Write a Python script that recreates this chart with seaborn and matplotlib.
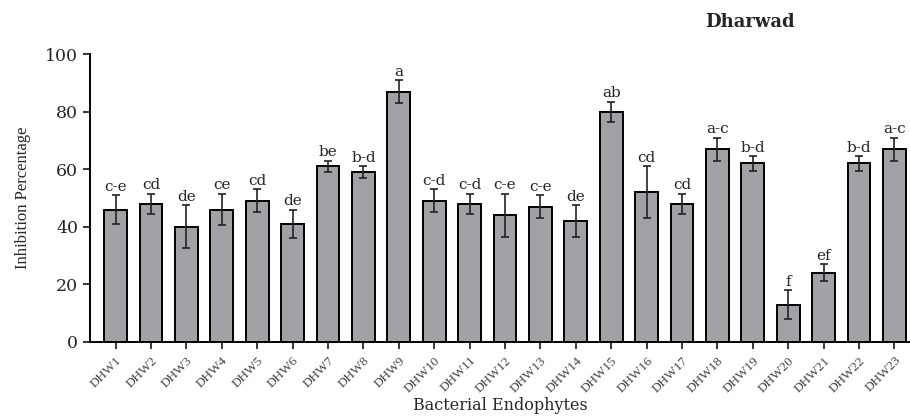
import numpy as np
import pandas as pd
import matplotlib
matplotlib.use("Agg")
import matplotlib.pyplot as plt
import seaborn as sns

sns.set_theme(style="white")
plt.rcParams['font.family'] = ['DejaVu Serif']

isolates = [f"DHW{i}" for i in range(1, 24)]
inhibition = [46, 48, 40, 46, 49, 41, 61, 59, 87, 49, 48, 44, 47, 42,
              80, 52, 48, 67, 62, 13, 24, 62, 67]
errors = [5, 3.5, 7.5, 5.5, 4, 5, 2, 2, 4, 4, 3.5, 7.5, 4, 5.5,
          3.5, 9, 3.5, 4, 2.5, 5, 3, 2.5, 4]
letters = ["c-e", "cd", "de", "ce", "cd", "de", "be", "b-d", "a", "c-d", "c-d",
           "c-e", "c-e", "de", "ab", "cd", "cd", "a-c", "b-d", "f", "ef", "b-d", "a-c"]

df = pd.DataFrame({"Isolate": isolates, "Inhibition": inhibition, "SE": errors})

fig = plt.figure(figsize=(9.1, 4.16), dpi=100)
ax = fig.add_axes([0.099, 0.178, 0.901, 0.692])

sns.barplot(data=df, x="Isolate", y="Inhibition", color="#a2a2a6",
            edgecolor="black", linewidth=1.4, width=0.64, saturation=1,
            errorbar=None, ax=ax)

pos = np.arange(len(isolates))
ax.errorbar(pos, df["Inhibition"], yerr=df["SE"], fmt="none",
            ecolor="#222222", elinewidth=1.2, capsize=3, capthick=1.2)

# significance letters just above the error bars
for x, v, e, lab in zip(pos, inhibition, errors, letters):
    ax.text(x, v + e + 0.5, lab, ha="center", va="bottom", fontsize=11,
            family="DejaVu Serif", clip_on=False)

ax.set_xlim(-0.72, 22.44)
ax.set_ylim(0, 100)
ax.set_yticks([0, 20, 40, 60, 80, 100])
ax.tick_params(axis="y", labelsize=12.5, length=5, width=1.3, direction="out", left=True)
ax.tick_params(axis="x", length=5, width=1.3, direction="out", bottom=True, pad=4)
ax.set_xticks(pos)
ax.set_xticklabels(isolates, rotation=45, ha="right", rotation_mode="anchor",
                   fontsize=9.5, family="Liberation Serif", color="#444444")

for side in ["top", "right"]:
    ax.spines[side].set_visible(False)
for side in ["left", "bottom"]:
    ax.spines[side].set_linewidth(1.4)
    ax.spines[side].set_color("black")

ax.set_xlabel("Bacterial Endophytes", family="DejaVu Serif", fontsize=11.5, va="center")
ax.xaxis.set_label_coords(0.5, -0.22)
ax.set_ylabel("Inhibition Percentage", family="Liberation Serif", fontsize=12, labelpad=10)

fig.text(0.824, 0.947, "Dharwad", ha="center", va="center", fontsize=13,
         fontweight="bold", family="DejaVu Serif")

fig.savefig("out.png", dpi=100)
